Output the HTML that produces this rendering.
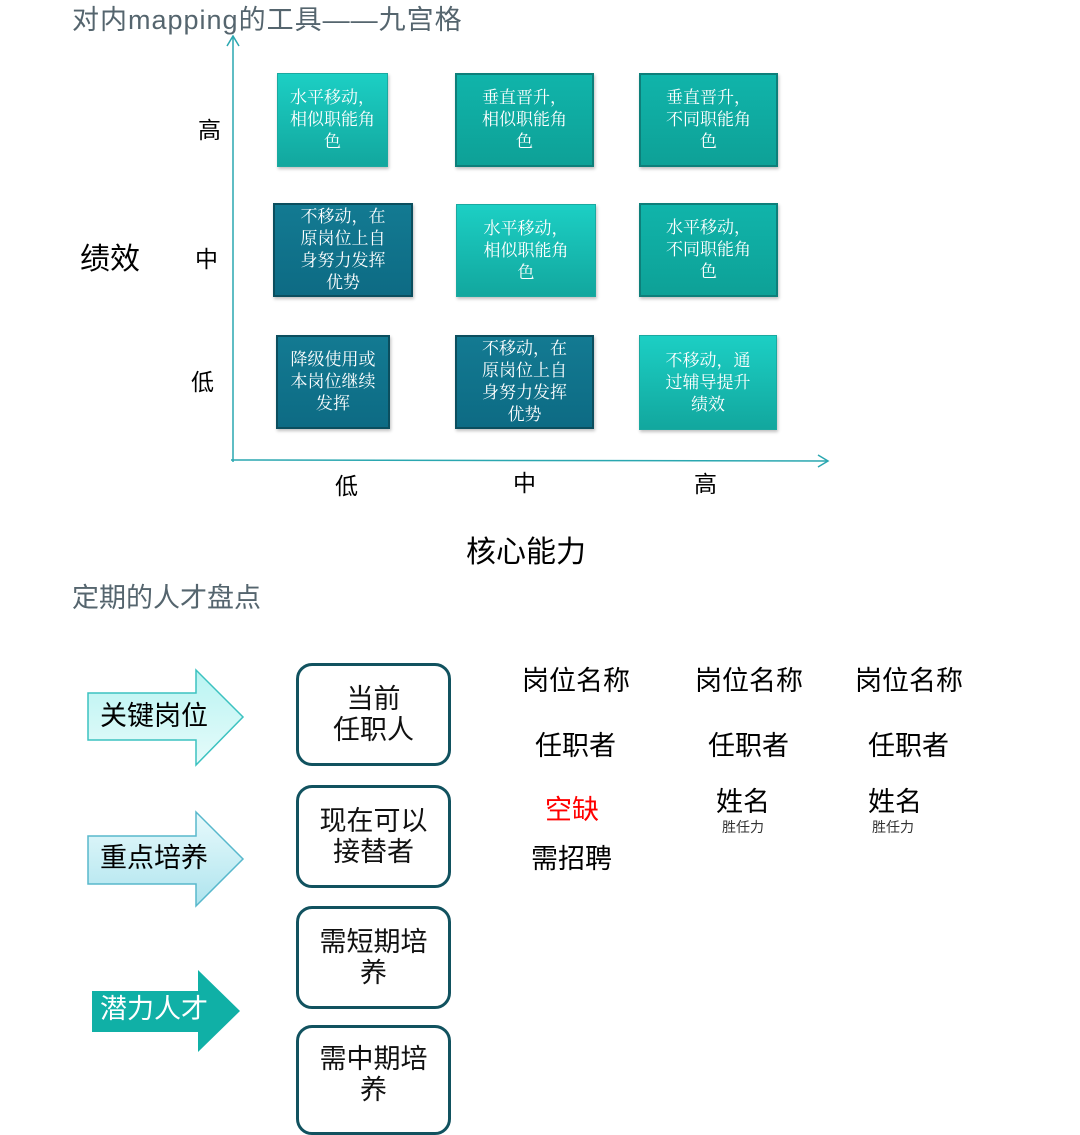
<!DOCTYPE html>
<html><head><meta charset="utf-8"><style>
body{margin:0;width:1080px;height:1114px;background:#fff;position:relative;overflow:hidden;font-family:"Liberation Sans","Noto Sans CJK SC",sans-serif;}
.t{position:absolute;white-space:nowrap;line-height:1;}
.b{position:absolute;box-sizing:border-box;color:#fff;font-family:"Liberation Serif","Noto Serif CJK SC",serif;font-size:17px;line-height:22px;text-align:center;display:flex;align-items:center;justify-content:center;box-shadow:1px 2px 3px rgba(0,0,0,.25);}
.l{background:linear-gradient(#1ccfc4,#12a79e);border:1px solid #1aa9a0;}
.m{background:linear-gradient(#10b4aa,#0ea197);border:2px solid #0d7f7a;}
.d{background:linear-gradient(#137a92,#0d6b84);border:2px solid #0b4e5e;}
.r{position:absolute;box-sizing:border-box;border:3px solid #11525f;border-radius:16px;width:155px;height:103px;display:flex;align-items:center;justify-content:center;text-align:center;font-size:27px;line-height:31px;color:#111;}
</style></head><body>
<div class="t" style="left:72px;top:7px;font-size:27px;letter-spacing:1px;color:#55656e;">对内mapping的工具——九宫格</div>
<svg style="position:absolute;left:0;top:0" width="1080" height="520">
<line x1="233" y1="36" x2="233" y2="462" stroke="#2aa7b0" stroke-width="1.5"/>
<polyline points="227,46 233,36 239,46" fill="none" stroke="#2aa7b0" stroke-width="1.5"/>
<line x1="231" y1="460" x2="828" y2="461" stroke="#2aa7b0" stroke-width="1.5"/>
<polyline points="818,455 828,461 818,467" fill="none" stroke="#2aa7b0" stroke-width="1.5"/>
</svg>
<div class="b l" style="left:277px;top:73px;width:111px;height:94px;">水平移动，<br>相似职能角<br>色</div>
<div class="b m" style="left:455px;top:73px;width:139px;height:94px;">垂直晋升，<br>相似职能角<br>色</div>
<div class="b m" style="left:639px;top:73px;width:139px;height:94px;">垂直晋升，<br>不同职能角<br>色</div>
<div class="b d" style="left:273px;top:203px;width:140px;height:94px;">不移动，在<br>原岗位上自<br>身努力发挥<br>优势</div>
<div class="b l" style="left:456px;top:204px;width:140px;height:93px;">水平移动，<br>相似职能角<br>色</div>
<div class="b m" style="left:639px;top:203px;width:139px;height:94px;">水平移动，<br>不同职能角<br>色</div>
<div class="b d" style="left:276px;top:335px;width:114px;height:94px;">降级使用或<br>本岗位继续<br>发挥</div>
<div class="b d" style="left:455px;top:335px;width:139px;height:94px;">不移动，在<br>原岗位上自<br>身努力发挥<br>优势</div>
<div class="b l" style="left:639px;top:335px;width:138px;height:95px;">不移动，通<br>过辅导提升<br>绩效</div>
<div class="t" style="left:198px;top:119px;font-size:23px;">高</div>
<div class="t" style="left:195px;top:248px;font-size:23px;">中</div>
<div class="t" style="left:191px;top:371px;font-size:23px;">低</div>
<div class="t" style="left:80px;top:245px;font-size:30px;">绩效</div>
<div class="t" style="left:335px;top:475px;font-size:23px;">低</div>
<div class="t" style="left:513px;top:472px;font-size:23px;">中</div>
<div class="t" style="left:694px;top:473px;font-size:23px;">高</div>
<div class="t" style="left:466px;top:538px;font-size:30px;">核心能力</div>
<div class="t" style="left:72px;top:585px;font-size:27px;color:#55656e;">定期的人才盘点</div>
<svg style="position:absolute;left:0;top:640px" width="300" height="474">
<defs>
<linearGradient id="g1" x1="0" y1="0" x2="0" y2="1"><stop offset="0" stop-color="#b9f4f2"/><stop offset="1" stop-color="#e6fbfa"/></linearGradient>
<linearGradient id="g2" x1="0" y1="0" x2="0" y2="1"><stop offset="0" stop-color="#e8fafc"/><stop offset="1" stop-color="#aee4ee"/></linearGradient>
</defs>
<polygon points="88,53 196,53 196,30 243,77 196,125 196,100 88,100" fill="url(#g1)" stroke="#3cc2c0" stroke-width="1.5"/>
<polygon points="88,196 196,196 196,172 243,219 196,266 196,244 88,244" fill="url(#g2)" stroke="#58b8cc" stroke-width="1.5"/>
<polygon points="92,351 198,351 198,330 240,371 198,412 198,392 92,392" fill="#10b0a6"/>
</svg>
<div class="t" style="left:100px;top:703px;font-size:27px;">关键岗位</div>
<div class="t" style="left:100px;top:845px;font-size:27px;">重点培养</div>
<div class="t" style="left:100px;top:996px;font-size:27px;color:#fff;">潜力人才</div>
<div class="r" style="left:296px;top:663px;">当前<br>任职人</div>
<div class="r" style="left:296px;top:785px;">现在可以<br>接替者</div>
<div class="r" style="left:296px;top:906px;">需短期培<br>养</div>
<div class="r" style="left:296px;top:1025px;height:110px;align-items:flex-start;padding-top:16px;">需中期培<br>养</div>
<div class="t" style="left:522px;top:668px;font-size:27px;">岗位名称</div>
<div class="t" style="left:695px;top:668px;font-size:27px;">岗位名称</div>
<div class="t" style="left:855px;top:668px;font-size:27px;">岗位名称</div>
<div class="t" style="left:535px;top:733px;font-size:27px;">任职者</div>
<div class="t" style="left:708px;top:733px;font-size:27px;">任职者</div>
<div class="t" style="left:868px;top:733px;font-size:27px;">任职者</div>
<div class="t" style="left:545px;top:797px;font-size:27px;color:#f00;">空缺</div>
<div class="t" style="left:531px;top:846px;font-size:27px;">需招聘</div>
<div class="t" style="left:716px;top:789px;font-size:27px;">姓名</div>
<div class="t" style="left:868px;top:789px;font-size:27px;">姓名</div>
<div class="t" style="left:722px;top:820px;font-size:14px;color:#333;">胜任力</div>
<div class="t" style="left:872px;top:820px;font-size:14px;color:#333;">胜任力</div>
</body></html>
